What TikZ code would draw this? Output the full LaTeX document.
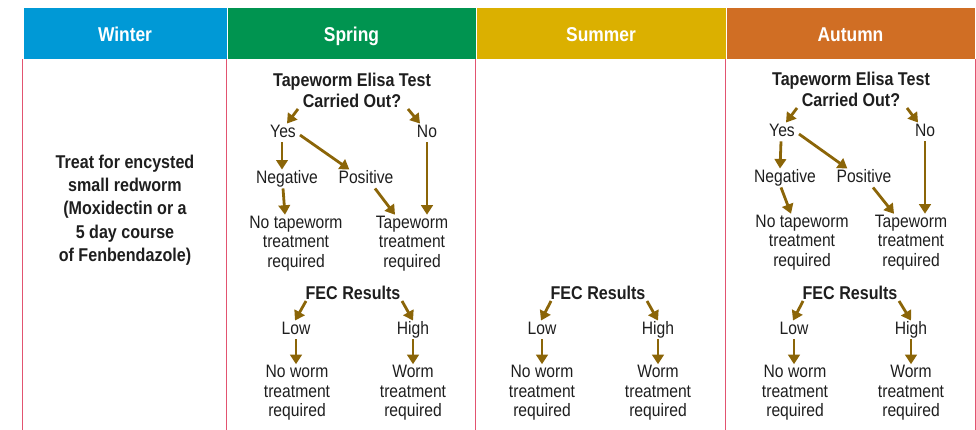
\documentclass[tikz,border=0pt]{standalone}
\usepackage{fontspec}
\setmainfont{Liberation Sans}[FakeStretch=0.87]
\usetikzlibrary{arrows.meta}

\definecolor{winterblue}{RGB}{0,153,214}
\definecolor{springgreen}{RGB}{0,148,80}
\definecolor{summeryellow}{RGB}{219,176,0}
\definecolor{autumnorange}{RGB}{208,110,36}
\definecolor{linered}{RGB}{226,84,112}
\definecolor{arrowbrown}{RGB}{139,101,8}
\definecolor{textgrey}{RGB}{30,30,30}

\tikzset{
  season/.style={fill=#1, draw=white, line width=0.8pt, minimum height=52pt, inner sep=0pt,
    text height=18pt, text depth=0pt, text=white, font=\fontsize{20}{22}\selectfont\bfseries},
  ques/.style={align=center, inner sep=1pt, text=textgrey, font=\fontsize{18.5}{21}\selectfont\bfseries},
  opt/.style={inner sep=1pt, text height=13pt, text depth=3.5pt, text=textgrey,
    font=\fontsize{18}{19.5}\selectfont},
  result/.style={align=center, inner sep=1pt, text=textgrey, font=\fontsize{18}{19.5}\selectfont},
  arr/.style={draw=arrowbrown, line width=2.8pt, -{Triangle[length=9.5pt,width=11.5pt]}},
  colline/.style={draw=linered, line width=1.2pt}
}

\begin{document}
\begin{tikzpicture}[x=1pt, y=-1pt]
\useasboundingbox (0,0) rectangle (976,430);

% Season headers
\node[season=winterblue, minimum width=204pt] (hdWinter) at (125,33) {Winter};
\node[season=springgreen, minimum width=249pt] (hdSpring) at (351.5,33) {Spring};
\node[season=summeryellow, minimum width=250pt] (hdSummer) at (601,33) {Summer};
\node[season=autumnorange, minimum width=249pt] (hdAutumn) at (850.5,33) {Autumn};

% Column lines
\draw[colline] (hdWinter.south west) -- ++(0,371);
\draw[colline] (hdSpring.south west) -- ++(0,371);
\draw[colline] (hdSummer.south west) -- ++(0,371);
\draw[colline] (hdAutumn.south west) -- ++(0,371);
\draw[colline] (hdAutumn.south east) -- ++(0,371);

% Winter
\node[ques, font=\fontsize{18.5}{23.3}\selectfont\bfseries] (wtTreat) at (125,210)
  {Treat for encysted\\small redworm\\(Moxidectin or a\\5 day course\\of Fenbendazole)};

% Spring: tapeworm test
\node[ques] (spElisa) at (352,90.5) {Tapeworm Elisa Test\\Carried Out?};
\node[opt] (spYes) at (283,133) {Yes};
\node[opt] (spNo) at (427,133) {No};
\node[opt] (spNeg) at (287,179) {Negative};
\node[opt] (spPos) at (366,179) {Positive};
\node[result] (spNoTape) at (296,243.5) {No tapeworm\\treatment\\required};
\node[result] (spTape) at (412,243.5) {Tapeworm\\treatment\\required};

\draw[arr] ([xshift=-54pt]spElisa.south) -- ([xshift=4pt]spYes.north);
\draw[arr] ([xshift=56pt]spElisa.south) -- ([xshift=-7pt]spNo.north);
\draw[arr] ([xshift=-1pt]spYes.south) -- ([xshift=-5pt]spNeg.north);
\draw[arr] ([xshift=3pt,yshift=-2pt]spYes.east) -- ([xshift=12pt]spPos.north west);
\draw[arr] (spNo.south) -- (spNo.south |- spTape.north);
\draw[arr] ([xshift=-4pt]spNeg.south) -- ([xshift=-11pt]spNoTape.north);
\draw[arr] ([xshift=9pt]spPos.south) -- ([xshift=-17pt]spTape.north);

% Spring: FEC
\node[ques] (spFec) at (353,293) {FEC Results};
\node[opt] (spLow) at (296,330) {Low};
\node[opt] (spHigh) at (413,330) {High};
\node[result] (spNoWorm) at (297,393) {No worm\\treatment\\required};
\node[result] (spWorm) at (413,393) {Worm\\treatment\\required};

\draw[arr] ([xshift=-47pt]spFec.south) -- ([xshift=-1pt]spLow.north);
\draw[arr] ([xshift=49pt]spFec.south) -- (spHigh.north);
\draw[arr] (spLow.south) -- (spLow.south |- spNoWorm.north);
\draw[arr] (spHigh.south) -- (spHigh.south |- spWorm.north);

% Summer: FEC
\node[ques] (suFec) at (598,293) {FEC Results};
\node[opt] (suLow) at (542,330) {Low};
\node[opt] (suHigh) at (658,330) {High};
\node[result] (suNoWorm) at (542,393) {No worm\\treatment\\required};
\node[result] (suWorm) at (658,393) {Worm\\treatment\\required};

\draw[arr] ([xshift=-47pt]suFec.south) -- ([xshift=-1pt]suLow.north);
\draw[arr] ([xshift=49pt]suFec.south) -- (suHigh.north);
\draw[arr] (suLow.south) -- (suLow.south |- suNoWorm.north);
\draw[arr] (suHigh.south) -- (suHigh.south |- suWorm.north);

% Autumn: tapeworm test
\node[ques] (auElisa) at (851,89.5) {Tapeworm Elisa Test\\Carried Out?};
\node[opt] (auYes) at (782,132) {Yes};
\node[opt] (auNo) at (925,132) {No};
\node[opt] (auNeg) at (785,178) {Negative};
\node[opt] (auPos) at (864,178) {Positive};
\node[result] (auNoTape) at (802,242.5) {No tapeworm\\treatment\\required};
\node[result] (auTape) at (911,242.5) {Tapeworm\\treatment\\required};

\draw[arr] ([xshift=-54pt]auElisa.south) -- ([xshift=4pt]auYes.north);
\draw[arr] ([xshift=56pt]auElisa.south) -- ([xshift=-7pt]auNo.north);
\draw[arr] ([xshift=-1pt]auYes.south) -- ([xshift=-5pt]auNeg.north);
\draw[arr] ([xshift=3pt,yshift=-2pt]auYes.east) -- ([xshift=12pt]auPos.north west);
\draw[arr] (auNo.south) -- (auNo.south |- auTape.north);
\draw[arr] ([xshift=-4pt]auNeg.south) -- ([xshift=-11pt]auNoTape.north);
\draw[arr] ([xshift=9pt]auPos.south) -- ([xshift=-17pt]auTape.north);

% Autumn: FEC
\node[ques] (auFec) at (850,293) {FEC Results};
\node[opt] (auLow) at (794,330) {Low};
\node[opt] (auHigh) at (911,330) {High};
\node[result] (auNoWorm) at (795,393) {No worm\\treatment\\required};
\node[result] (auWorm) at (911,393) {Worm\\treatment\\required};

\draw[arr] ([xshift=-47pt]auFec.south) -- ([xshift=-1pt]auLow.north);
\draw[arr] ([xshift=49pt]auFec.south) -- (auHigh.north);
\draw[arr] (auLow.south) -- (auLow.south |- auNoWorm.north);
\draw[arr] (auHigh.south) -- (auHigh.south |- auWorm.north);

\end{tikzpicture}
\end{document}
